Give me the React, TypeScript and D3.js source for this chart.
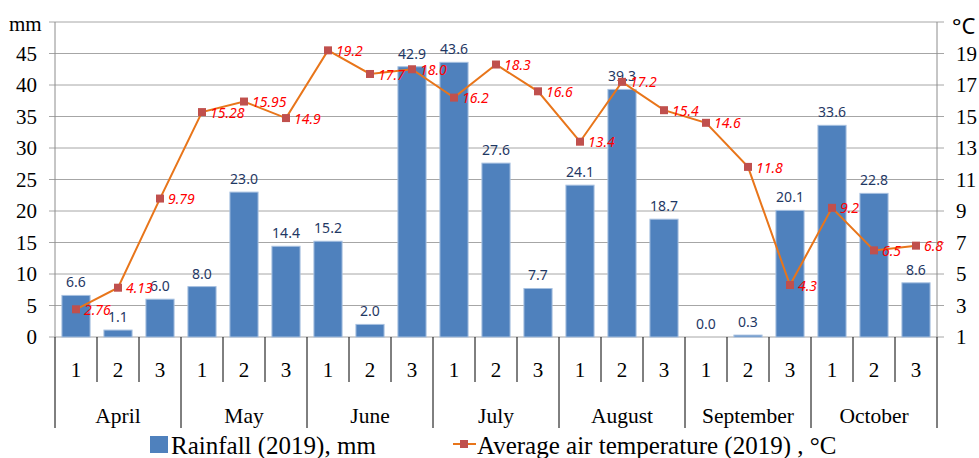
import React from "react";
import * as d3 from "d3";

const months = ["April", "May", "June", "July", "August", "September", "October"];
const decades = ["1", "2", "3"];
const rainfall = [6.6, 1.1, 6.0, 8.0, 23.0, 14.4, 15.2, 2.0, 42.9, 43.6, 27.6, 7.7, 24.1, 39.3, 18.7, 0.0, 0.3, 20.1, 33.6, 22.8, 8.6];
const rainLabels = ["6.6", "1.1", "6.0", "8.0", "23.0", "14.4", "15.2", "2.0", "42.9", "43.6", "27.6", "7.7", "24.1", "39.3", "18.7", "0.0", "0.3", "20.1", "33.6", "22.8", "8.6"];
const temperature = [2.76, 4.13, 9.79, 15.28, 15.95, 14.9, 19.2, 17.7, 18.0, 16.2, 18.3, 16.6, 13.4, 17.2, 15.4, 14.6, 11.8, 4.3, 9.2, 6.5, 6.8];
const tempLabels = ["2.76", "4.13", "9.79", "15.28", "15.95", "14.9", "19.2", "17.7", "18.0", "16.2", "18.3", "16.6", "13.4", "17.2", "15.4", "14.6", "11.8", "4.3", "9.2", "6.5", "6.8"];
const leftTicks = [0, 5, 10, 15, 20, 25, 30, 35, 40, 45];
const rightTicks = [1, 3, 5, 7, 9, 11, 13, 15, 17, 19];

const W = 979, H = 458;
const L = 55, R = 937, T = 22, B = 337;

export default function App() {
  const keys = months.flatMap((m) => decades.map((d) => `${m}-${d}`));
  const x = d3.scaleBand().domain(keys).range([L, R]).paddingInner(0.33).paddingOuter(0.165);
  const slot = d3.scaleBand().domain(keys).range([L, R]);
  const y = d3.scaleLinear().domain([0, 50]).range([B, T]);
  const y2 = d3.scaleLinear().domain([1, 21]).range([B, T]);
  const line = d3.line<number>().x((_, i) => (slot(keys[i]) as number) + slot.bandwidth() / 2).y((d) => y2(d));
  const sw = slot.bandwidth();
  const serif = "'Liberation Serif', 'Times New Roman', serif";
  const sans = "'Noto Sans', 'Open Sans', sans-serif";
  const gridVals = [...leftTicks, 50];

  return (
    <svg width={W} height={H} style={{ position: "absolute", left: 0, top: 0, background: "#fff" }}>
      {gridVals.map((v) => (
        <line key={v} x1={L - 6} x2={R + 7} y1={y(v)} y2={y(v)} stroke="#A6A6A6" strokeWidth={1} />
      ))}
      <line x1={L} x2={L} y1={T} y2={B} stroke="#8C8C8C" />
      <line x1={R} x2={R} y1={T} y2={B} stroke="#8C8C8C" />
      {leftTicks.map((v) => (
        <text key={v} x={37} y={y(v)} dy="0.35em" textAnchor="end" fontFamily={serif} fontSize={21} fill="#000">{v}</text>
      ))}
      {rightTicks.map((v) => (
        <text key={v} x={956} y={y2(v)} dy="0.35em" textAnchor="start" fontFamily={serif} fontSize={21} fill="#000">{v}</text>
      ))}
      <text x={9} y={31} fontFamily={serif} fontSize={21} fill="#000">mm</text>
      <text x={952} y={34} fontFamily={sans} fontSize={22} fill="#000">°C</text>

      {rainfall.map((v, i) => (
        <rect key={i} x={x(keys[i])} y={y(v)} width={x.bandwidth()} height={Math.max(0, B - y(v))} fill="#4F81BD" stroke="#A7C0E0" strokeWidth={v > 0 ? 1 : 0} />
      ))}
      {rainfall.map((v, i) => (
        <text key={i} x={(x(keys[i]) as number) + x.bandwidth() / 2} y={y(v) - 8} textAnchor="middle" fontFamily={sans} fontSize={14} fill="#1F3864">{rainLabels[i]}</text>
      ))}

      <path d={line(temperature) || ""} fill="none" stroke="#E8751A" strokeWidth={2} />
      {temperature.map((v, i) => {
        const cx = (slot(keys[i]) as number) + sw / 2;
        return <rect key={i} x={cx - 4} y={y2(v) - 4} width={8} height={8} fill="#C0504D" />;
      })}
      {temperature.map((v, i) => {
        const cx = (slot(keys[i]) as number) + sw / 2;
        return <text key={i} x={cx + 8} y={y2(v)} dy="0.4em" fontFamily={sans} fontStyle="italic" fontSize={14} fill="#FF0000">{tempLabels[i]}</text>;
      })}

      {/* category axis */}
      {keys.map((k, i) => {
        const x0 = slot(k) as number;
        const isMonth = i % 3 === 0;
        return <line key={k} x1={x0} x2={x0} y1={B} y2={isMonth ? 428 : 382} stroke="#000" strokeWidth={1} />;
      })}
      <line x1={R} x2={R} y1={B} y2={428} stroke="#000" strokeWidth={1} />
      {keys.map((k, i) => (
        <text key={k} x={(slot(k) as number) + sw / 2} y={370} dy="0.35em" textAnchor="middle" fontFamily={serif} fontSize={21} fill="#000">{decades[i % 3]}</text>
      ))}
      {months.map((m, j) => (
        <text key={m} x={(slot(keys[j * 3]) as number) + sw * 1.5} y={415} dy="0.35em" textAnchor="middle" fontFamily={serif} fontSize={21.5} fill="#000">{m}</text>
      ))}

      {/* legend */}
      <rect x={150} y={436} width={18} height={17} fill="#4F81BD" />
      <text x={171} y={454} fontFamily={serif} fontSize={25} fill="#000">Rainfall (2019), mm</text>
      <line x1={453} x2={476} y1={444} y2={444} stroke="#E8751A" strokeWidth={2} />
      <rect x={460} y={440} width={8} height={8} fill="#C0504D" />
      <text x={477} y={454} fontFamily={serif} fontSize={25} fill="#000">Average air temperature (2019) , °C</text>
    </svg>
  );
}
